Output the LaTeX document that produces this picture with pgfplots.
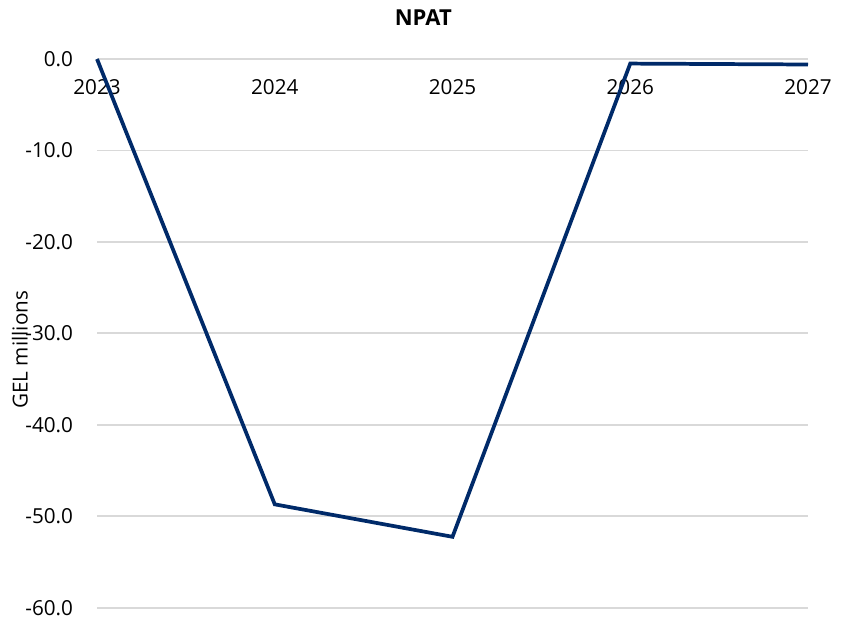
\documentclass[border=0pt]{standalone}
\usepackage{pgfplots}
\pgfplotsset{compat=1.18}
\usepackage{fontspec}
\setmainfont{Open Sans}
\definecolor{navy}{RGB}{0,42,105}
\definecolor{gridc}{RGB}{217,217,217}
\begin{document}
\begin{tikzpicture}
\path[use as bounding box] (-72.75pt,-8.5pt) rectangle (561pt,455.75pt);
\begin{axis}[
  at={(0,0)}, anchor=south west,
  scale only axis, width=533.25pt, height=411.5pt,
  xmin=2023, xmax=2027, ymin=-60, ymax=0,
  xtick={2023,2024,2025,2026,2027},
  xticklabels={2023,2024,2025,2026,2027},
  ytick={-60,-50,-40,-30,-20,-10,0},
  yticklabel={\pgfmathprintnumber[fixed,fixed zerofill,precision=1]{\tick}},
  /pgf/number format/assume math mode=true,
  xticklabel pos=upper,
  xticklabel style={anchor=north, yshift=-12pt, font=\fontsize{15.5pt}{18pt}\selectfont},
  yticklabel style={font=\fontsize{15.5pt}{18pt}\selectfont, xshift=-14.5pt},
  axis line style={draw=none},
  major tick length=0pt,
  ymajorgrids, grid style={gridc, line width=1.4pt},
  ylabel={GEL millions},
  ylabel style={font=\fontsize{15.5pt}{18pt}\selectfont, at={(axis description cs:-0.1083,0.47)}, anchor=center},
  title={\textbf{NPAT}},
  title style={font=\fontsize{16.5pt}{19pt}\selectfont, at={(axis description cs:0.459,1)}, anchor=center, yshift=25pt},
  clip=false,
]
\addplot[navy, line width=2.8pt, line join=miter] coordinates {
(2023,0) (2024,-48.7) (2025,-52.25) (2026,-0.5) (2027,-0.6)};
\end{axis}
\end{tikzpicture}
\end{document}
